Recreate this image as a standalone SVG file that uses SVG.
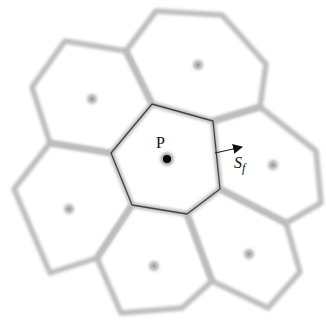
<svg xmlns="http://www.w3.org/2000/svg" width="326" height="323" viewBox="0 0 326 323">
<defs>
<filter id="blur" x="-10%" y="-10%" width="120%" height="120%"><feGaussianBlur stdDeviation="1.4"/></filter>
<filter id="dblur" x="-100%" y="-100%" width="300%" height="300%"><feGaussianBlur stdDeviation="1.8"/></filter>
<marker id="arr" viewBox="0 0 10 10" refX="9" refY="5" markerWidth="10" markerHeight="10" markerUnits="userSpaceOnUse" orient="auto"><path d="M0,0 L10,5 L0,10 z" fill="#111"/></marker>
</defs>
<style>
.cell{fill:none;stroke:#bdbdbd;stroke-width:5.5;stroke-linejoin:round;filter:url(#blur)}
.seed{fill:#b4b4b4;filter:url(#dblur)}
.core{fill:#9a9a9a}
.center{fill:none;stroke:#444;stroke-width:1.3;stroke-linejoin:round}
.lbl{font-family:"Liberation Serif","DejaVu Serif",serif;fill:#111}
</style>
<rect width="326" height="323" fill="#fff"/>
<g id="cell-topleft"><polygon class="cell" points="65,41 126,51 152,104 111,153 50,143 32,87"/><circle class="seed" cx="92" cy="99" r="5"/><circle class="core" cx="92" cy="99" r="1.6"/></g>
<g id="cell-top"><polygon class="cell" points="126,51 156,11 222,15 266,64 260,107 213,121 152,104"/><circle class="seed" cx="198" cy="65" r="5"/><circle class="core" cx="198" cy="65" r="1.6"/></g>
<g id="cell-right"><polygon class="cell" points="260,107 316,151 321,203 286,223 220,189 213,121"/><circle class="seed" cx="273" cy="165" r="5"/><circle class="core" cx="273" cy="165" r="1.6"/></g>
<g id="cell-bottomright"><polygon class="cell" points="220,189 286,223 300,272 268,308 212,281 187,214"/><circle class="seed" cx="249" cy="254" r="5"/><circle class="core" cx="249" cy="254" r="1.2" fill="#555"/></g>
<g id="cell-bottom"><polygon class="cell" points="132,205 187,214 212,281 182,308 121,313 97,258"/><circle class="seed" cx="154" cy="266" r="5"/><circle class="core" cx="154" cy="266" r="1.2" fill="#666"/></g>
<g id="cell-left"><polygon class="cell" points="50,143 111,153 132,205 97,258 50,273 14,189"/><circle class="seed" cx="69" cy="209" r="5"/><circle class="core" cx="69" cy="209" r="1.6"/></g>
<g id="cell-P">
<polygon class="center" points="152,104 213,121 220,189 187,214 132,205 111,153"/>
<circle cx="167" cy="159" r="6.5" fill="#a0a0a0" filter="url(#dblur)"/>
<circle cx="167" cy="159" r="4" fill="#000"/>
<text class="lbl" x="156" y="148" font-size="16">P</text>
</g>
<g id="connectors">
<line x1="215" y1="153" x2="242" y2="147" stroke="#222" stroke-width="1.2" marker-end="url(#arr)"/>
<text class="lbl" x="234" y="168" font-size="16" font-style="italic">S<tspan font-size="12" dy="4">f</tspan></text>
</g>
</svg>
